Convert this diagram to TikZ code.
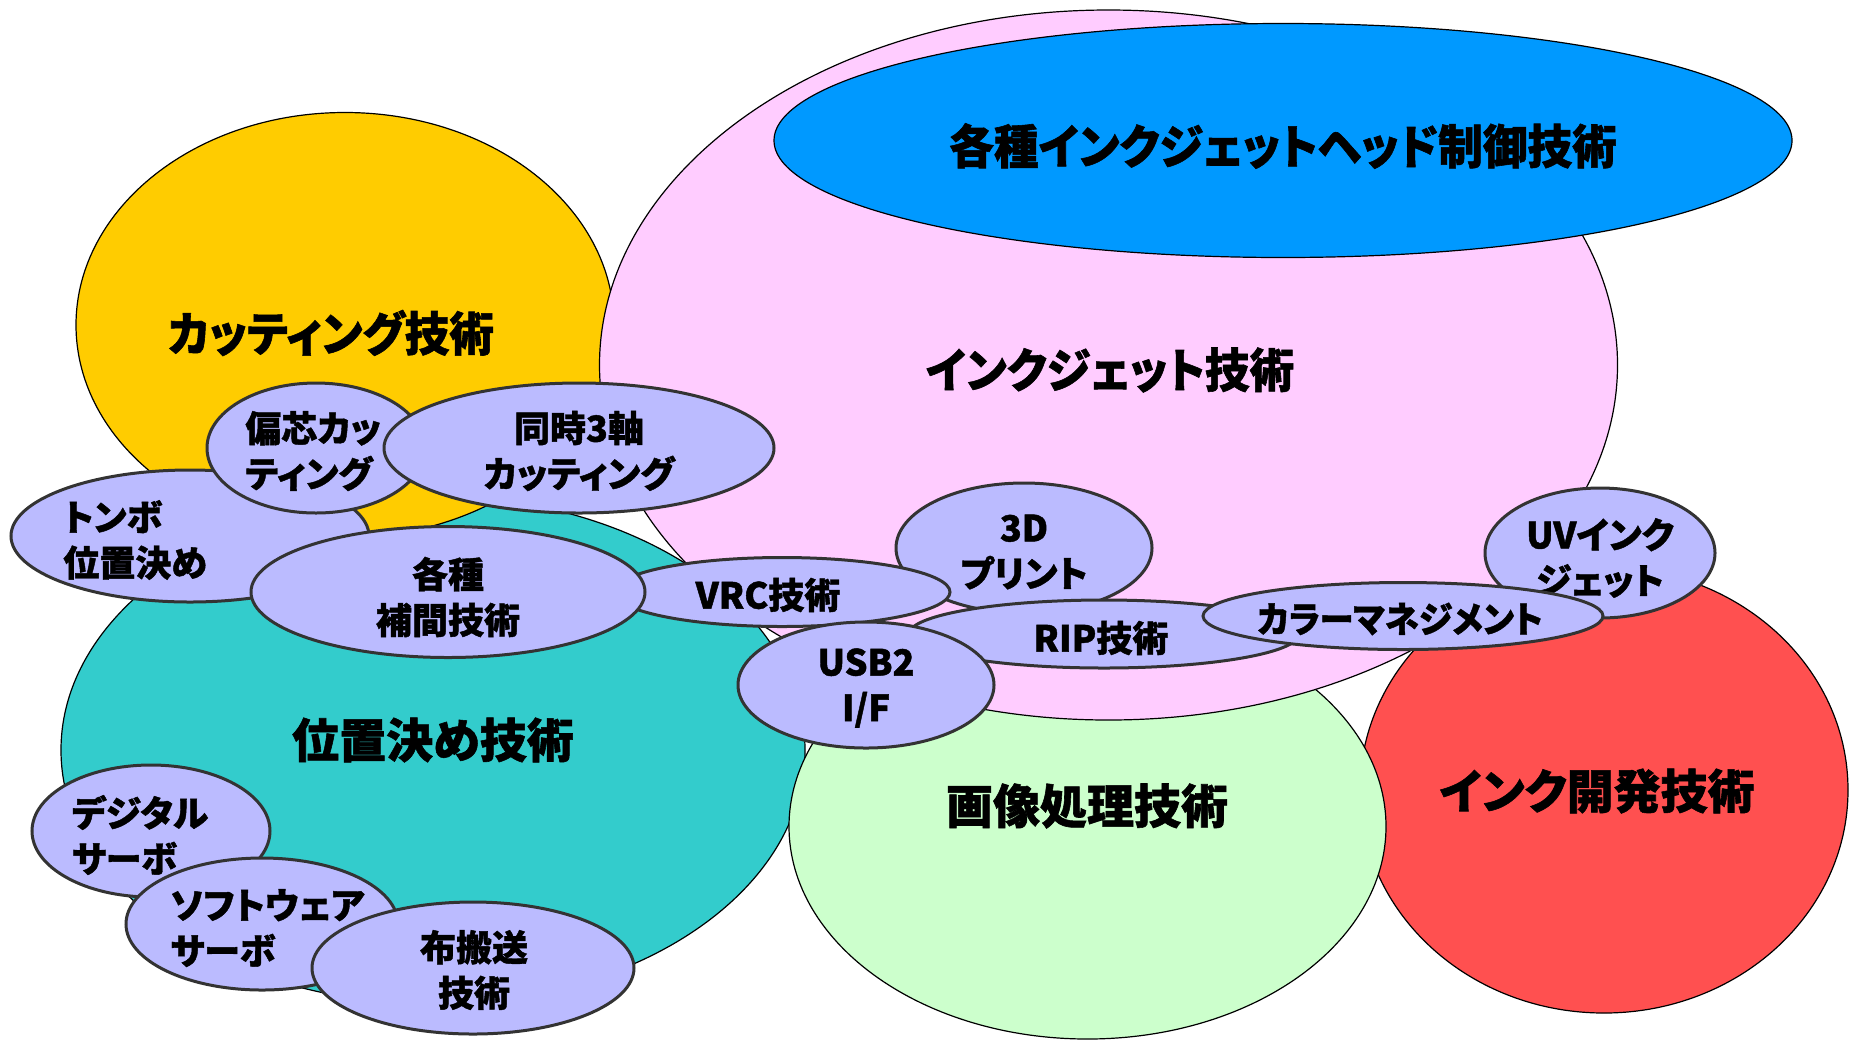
\documentclass[tikz,border=0pt]{standalone}
\usepackage{fontspec}
\newfontfamily\jp{Noto Sans CJK JP}[RawFeature=+palt, BoldFeatures={FakeBold=1.2}]
\newfontfamily\jpn{Noto Sans CJK JP}[RawFeature=+palt, FakeStretch=0.95, BoldFeatures={FakeBold=1.2}]
\usetikzlibrary{shapes.geometric}
\definecolor{cyel}{HTML}{FFCC00}
\definecolor{cpink}{HTML}{FFCCFF}
\definecolor{cblue}{HTML}{0099FF}
\definecolor{cteal}{HTML}{33CCCC}
\definecolor{cgreen}{HTML}{CCFFCC}
\definecolor{cred}{HTML}{FF5050}
\definecolor{clav}{HTML}{BBBBFF}
\definecolor{cedge}{HTML}{333333}
\tikzset{
  bigell/.style={ellipse, draw=black, line width=0.6pt, inner sep=0pt, outer sep=0pt},
  smallell/.style={ellipse, draw=cedge, line width=1.5pt, fill=clav, inner sep=0pt, outer sep=0pt},
  bigtxt/.style={font=\jp\bfseries\fontsize{23.5}{28}\selectfont, inner sep=0pt},
  bigtxtn/.style={font=\jpn\bfseries\fontsize{23.5}{28}\selectfont, inner sep=0pt},
  smalltxt/.style={font=\jp\bfseries\fontsize{18}{22.8}\selectfont, align=center, inner sep=0pt},
  smalltxtn/.style={font=\jpn\bfseries\fontsize{18}{22.8}\selectfont, align=center, inner sep=0pt},
  lefttxt/.style={smalltxt, align=left, anchor=west},
}
\begin{document}
\begin{tikzpicture}[x=0.5pt, y=-0.5pt]
\useasboundingbox (0,0) rectangle (1851,1040);
% large areas
\node[bigell, fill=cteal, minimum width=372pt, minimum height=254pt] (pos) at (433,750) {};
\node[bigell, fill=cyel, minimum width=269pt, minimum height=212.5pt] (cut) at (345,325) {};
\node[bigell, fill=cred, minimum width=244pt, minimum height=223pt] (ink) at (1604,790) {};
\node[bigell, fill=cgreen, minimum width=298.5pt, minimum height=212.5pt] (img) at (1087.5,826.5) {};
\node[bigell, fill=cpink, minimum width=509pt, minimum height=355pt] (ij) at (1108.5,365) {};
\node[bigell, fill=cblue, minimum width=509pt, minimum height=117pt] (head) at (1283,140.5) {};
\node[bigtxtn] (cut-t) at (331,333) {カッティング技術};
\node[bigtxtn] (ij-t) at (1110,370) {インクジェット技術};
\node[bigtxtn] (head-t) at (1283,146) {各種インクジェットヘッド制御技術};
\node[bigtxt] (pos-t) at (433,740) {位置決め技術};
\node[bigtxt] (img-t) at (1087,806) {画像処理技術};
\node[bigtxt] (ink-t) at (1597,791) {インク開発技術};
% small items
\node[smallell, minimum width=179pt, minimum height=66pt] (tombo) at (190,536) {};
\node[lefttxt] (tombo-t) at (63,540) {トンボ\\位置決め};
\node[smallell, minimum width=109pt, minimum height=65pt] (hen) at (316,448) {};
\node[lefttxt] (hen-t) at (245,451) {偏芯カッ\\ティング};
\node[smallell, minimum width=195pt, minimum height=65pt] (sim) at (579,448) {};
\node[smalltxt] (sim-t) at (579,451) {同時3軸\\カッティング};
\node[smallell, minimum width=128pt, minimum height=65pt] (p3d) at (1024,548) {};
\node[smalltxt] (p3d-t) at (1024,552) {3D\\プリント};
\node[smallell, minimum width=168pt, minimum height=34.5pt] (vrc) at (782,592) {};
\node[smalltxt] (vrc-t) at (768,595) {VRC技術};
\node[smallell, minimum width=197pt, minimum height=65.5pt] (hok) at (448,592) {};
\node[smalltxt] (hok-t) at (448,597) {各種\\補間技術};
\node[smallell, minimum width=195pt, minimum height=34pt] (rip) at (1104,634) {};
\node[smalltxt] (rip-t) at (1101,638) {RIP技術};
\node[smallell, minimum width=128pt, minimum height=63pt] (usb) at (866,685) {};
\node[smalltxt] (usb-t) at (866,688) {USB2\\I/F};
\node[smallell, minimum width=115pt, minimum height=65pt] (uv) at (1600,553) {};
\node[smalltxt] (uv-t) at (1600,558) {UVインク\\ジェット};
\node[smallell, minimum width=200pt, minimum height=33.5pt] (cm) at (1403,616) {};
\node[smalltxtn] (cm-t) at (1400,619) {カラーマネジメント};
\node[smallell, minimum width=119pt, minimum height=66pt] (dig) at (151,831) {};
\node[lefttxt] (dig-t) at (71.5,835) {デジタル\\サーボ};
\node[smallell, minimum width=136pt, minimum height=66pt] (soft) at (262,924) {};
\node[lefttxt] (soft-t) at (170,928) {ソフトウェア\\サーボ};
\node[smallell, minimum width=161pt, minimum height=66pt] (cloth) at (473,968) {};
\node[smalltxt] (cloth-t) at (474,970) {布搬送\\技術};
\end{tikzpicture}
\end{document}
